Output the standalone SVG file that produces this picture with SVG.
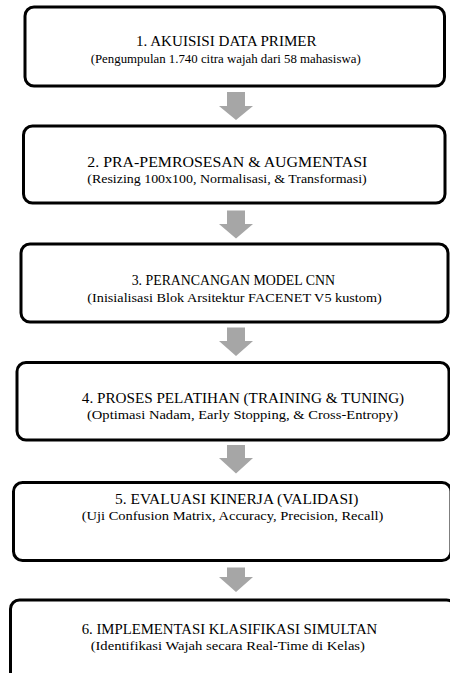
<svg xmlns="http://www.w3.org/2000/svg" width="450" height="673" viewBox="0 0 450 673">
<style>
.box{fill:#fff;stroke:#000;stroke-width:3}
.t1{font-family:"Liberation Serif","Times New Roman",serif;font-size:14.5px;fill:#000;text-anchor:middle}
.t2{font-family:"Liberation Serif","Times New Roman",serif;font-size:13.5px;fill:#000;text-anchor:middle}
.arr{fill:#a6a6a6}
</style>
<rect width="450" height="673" fill="#fff"/>
<g id="n1">
<rect class="box" x="25" y="7" width="419.5" height="79" rx="9"/>
<text class="t1" x="226.3" y="46" textLength="180.7" lengthAdjust="spacingAndGlyphs">1. AKUISISI DATA PRIMER</text>
<text class="t2" x="225.7" y="63" textLength="270" lengthAdjust="spacingAndGlyphs">(Pengumpulan 1.740 citra wajah dari 58 mahasiswa)</text>
</g>
<g id="n2">
<rect class="box" x="23.5" y="126" width="421.5" height="77" rx="9"/>
<text class="t1" x="227.3" y="166.5" textLength="280" lengthAdjust="spacingAndGlyphs">2. PRA-PEMROSESAN &amp; AUGMENTASI</text>
<text class="t2" x="227" y="183" textLength="279.4" lengthAdjust="spacingAndGlyphs">(Resizing 100x100, Normalisasi, &amp; Transformasi)</text>
</g>
<g id="n3">
<rect class="box" x="21" y="244" width="427" height="78" rx="9"/>
<text class="t1" x="233.3" y="285" textLength="203.3" lengthAdjust="spacingAndGlyphs">3. PERANCANGAN MODEL CNN</text>
<text class="t2" x="234.5" y="301.5" textLength="294.4" lengthAdjust="spacingAndGlyphs">(Inisialisasi Blok Arsitektur FACENET V5 kustom)</text>
</g>
<g id="n4">
<rect class="box" x="17" y="362.5" width="432" height="77.5" rx="9"/>
<text class="t1" x="243" y="402.5" textLength="322.3" lengthAdjust="spacingAndGlyphs">4. PROSES PELATIHAN (TRAINING &amp; TUNING)</text>
<text class="t2" x="242.5" y="418.5" textLength="311" lengthAdjust="spacingAndGlyphs">(Optimasi Nadam, Early Stopping, &amp; Cross-Entropy)</text>
</g>
<g id="n5">
<rect class="box" x="13.5" y="482.5" width="437.5" height="78" rx="9"/>
<text class="t1" x="236.7" y="504.3" textLength="243.3" lengthAdjust="spacingAndGlyphs">5. EVALUASI KINERJA (VALIDASI)</text>
<text class="t2" x="232.5" y="520" textLength="301.6" lengthAdjust="spacingAndGlyphs">(Uji Confusion Matrix, Accuracy, Precision, Recall)</text>
</g>
<g id="n6">
<rect class="box" x="10.5" y="600" width="445" height="90" rx="9"/>
<text class="t1" x="229.5" y="634" textLength="295.6" lengthAdjust="spacingAndGlyphs">6. IMPLEMENTASI KLASIFIKASI SIMULTAN</text>
<text class="t2" x="227.8" y="649.5" textLength="274.3" lengthAdjust="spacingAndGlyphs">(Identifikasi Wajah secara Real-Time di Kelas)</text>
</g>
<g id="connectors">
<path class="arr" d="M227,92 H245 V106 H253 L236,120 L219,106 H227 Z"/>
<path class="arr" d="M227,210.5 H245 V224 H253 L236,238.5 L219,224 H227 Z"/>
<path class="arr" d="M227,327.5 H245 V341 H253 L236,356 L219,341 H227 Z"/>
<path class="arr" d="M227,445 H245 V458 H253 L236,473.5 L219,458 H227 Z"/>
<path class="arr" d="M227,567.5 H245 V577 H253 L236,592 L219,577 H227 Z"/>
</g>
</svg>
